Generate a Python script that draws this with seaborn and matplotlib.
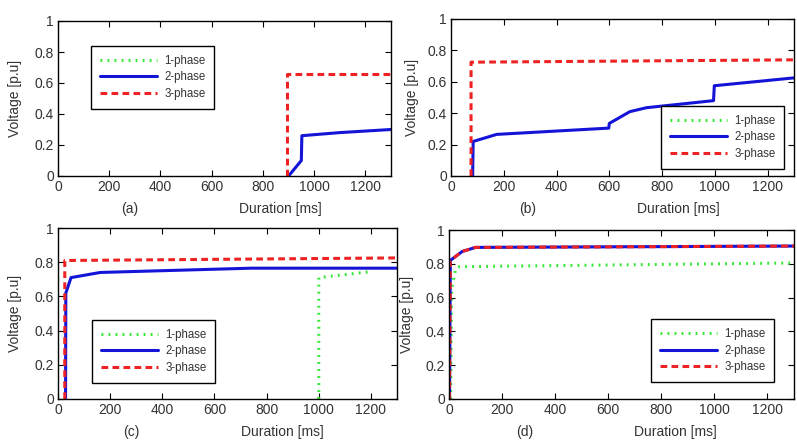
import numpy as np
import pandas as pd
import matplotlib
matplotlib.use("Agg")
import matplotlib.pyplot as plt
from matplotlib.lines import Line2D
from matplotlib.ticker import FormatStrFormatter
import seaborn as sns

# ---- data (duration in ms, voltage in p.u) ----
# (a)
a_p1_x, a_p1_y = [], []
a_p2_x = [900, 950, 952, 1100, 1300]
a_p2_y = [0.0, 0.10, 0.26, 0.28, 0.30]
a_p3_x = [895, 895, 1300]
a_p3_y = [0.0, 0.66, 0.66]
# (b)
b_p1_x, b_p1_y = [], []
b_p2_x = [82, 84, 173, 598, 600, 678, 741, 995, 998, 1300]
b_p2_y = [0.0, 0.22, 0.265, 0.305, 0.335, 0.41, 0.435, 0.48, 0.575, 0.625]
b_p3_x = [76, 76, 1300]
b_p3_y = [0.0, 0.725, 0.74]
# (c)
c_p1_x = [1000, 1000, 1200]
c_p1_y = [0.0, 0.71, 0.745]
c_p2_x = [29, 30, 50, 162, 740, 1300]
c_p2_y = [0.0, 0.62, 0.71, 0.74, 0.765, 0.765]
c_p3_x = [26, 26, 1300]
c_p3_y = [0.0, 0.81, 0.825]
# (d)
d_p1_x = [6, 10, 25, 40, 1300]
d_p1_y = [0.0, 0.65, 0.77, 0.783, 0.805]
d_p2_x = [2, 5, 50, 100, 1300]
d_p2_y = [0.0, 0.82, 0.873, 0.897, 0.905]
d_p3_x = [2, 5, 50, 100, 1300]
d_p3_y = [0.0, 0.82, 0.873, 0.897, 0.905]

phases = ["1-phase", "2-phase", "3-phase"]
colors = ["#33e833", "#1414d8", "#ee2222"]
panel_labels = ["(a)", "(b)", "(c)", "(d)"]

sns.set_style("ticks")
plt.rcParams["font.family"] = ["Liberation Sans", "DejaVu Sans"]
plt.rcParams["xtick.direction"] = "in"
plt.rcParams["ytick.direction"] = "in"

fig = plt.figure(figsize=(7.97, 4.42), dpi=100)
W, H = 797.0, 442.0

# axes boxes in pixels: left, top, right, bottom
boxes = [(58, 21, 391, 176), (451, 19, 794, 176),
         (58, 228, 397, 399), (449, 230, 794, 399)]
legend_pos = [(0.099, 0.839), (0.612, 0.446), (0.10, 0.462), (0.586, 0.473)]
xlabel_pos = [(0.668, -0.165), (0.663, -0.163), (0.661, -0.150), (0.655, -0.152)]
tag_pos = [0.216, 0.223, 0.217, 0.220]
ylabel_x = [-0.108, -0.093, -0.106, -0.101]

panels = [
    [(a_p1_x, a_p1_y), (a_p2_x, a_p2_y), (a_p3_x, a_p3_y)],
    [(b_p1_x, b_p1_y), (b_p2_x, b_p2_y), (b_p3_x, b_p3_y)],
    [(c_p1_x, c_p1_y), (c_p2_x, c_p2_y), (c_p3_x, c_p3_y)],
    [(d_p1_x, d_p1_y), (d_p2_x, d_p2_y), (d_p3_x, d_p3_y)],
]

styles = [dict(linestyle=(0, (0.6, 1.7))), dict(linestyle="-"),
          dict(linestyle=(0, (2.2, 1.4)))]

for i, (l, t, r, b) in enumerate(boxes):
    ax = fig.add_axes([l / W, 1 - b / H, (r - l) / W, (b - t) / H])
    for j, (xs, ys) in enumerate(panels[i]):
        if len(xs) == 0:
            continue
        df = pd.DataFrame({"x": xs, "y": ys})
        sns.lineplot(data=df, x="x", y="y", ax=ax, color=colors[j],
                     linewidth=2.2, estimator=None, sort=False, **styles[j])
    ax.set_xlim(0, 1300)
    ax.set_ylim(0, 1)
    ax.set_xticks(np.arange(0, 1201, 200))
    ax.set_yticks(np.arange(0, 1.01, 0.2))
    ax.yaxis.set_major_formatter(FormatStrFormatter("%g"))
    ax.tick_params(axis="both", which="both", top=True, right=True,
                   labelsize=10, labelcolor="#333333", length=4, width=0.8,
                   color="black", pad=3)
    for sp in ax.spines.values():
        sp.set_color("black")
        sp.set_linewidth(1.0)
    ax.set_xlabel("Duration [ms]", fontsize=10, color="#333333")
    ax.xaxis.set_label_coords(*xlabel_pos[i])
    ax.set_ylabel("Voltage [p.u]", fontsize=10, color="#333333")
    ax.yaxis.set_label_coords(ylabel_x[i], 0.5)
    ax.text(tag_pos[i], xlabel_pos[i][1], panel_labels[i], transform=ax.transAxes,
            ha="center", va="top", fontsize=10, color="#333333")

    handles = [Line2D([], [], color=colors[j], linewidth=2.2, **styles[j])
               for j in range(3)]
    leg = ax.legend(handles, phases, loc="upper left",
                    bbox_to_anchor=legend_pos[i], borderaxespad=0,
                    fontsize=8.3, frameon=True, fancybox=False, framealpha=1,
                    edgecolor="black", borderpad=0.75, handlelength=5.0,
                    handletextpad=0.6, labelspacing=0.42)
    leg.get_frame().set_linewidth(1.0)
    for txt in leg.get_texts():
        txt.set_color("#333333")

fig.savefig("out.png", dpi=100)
